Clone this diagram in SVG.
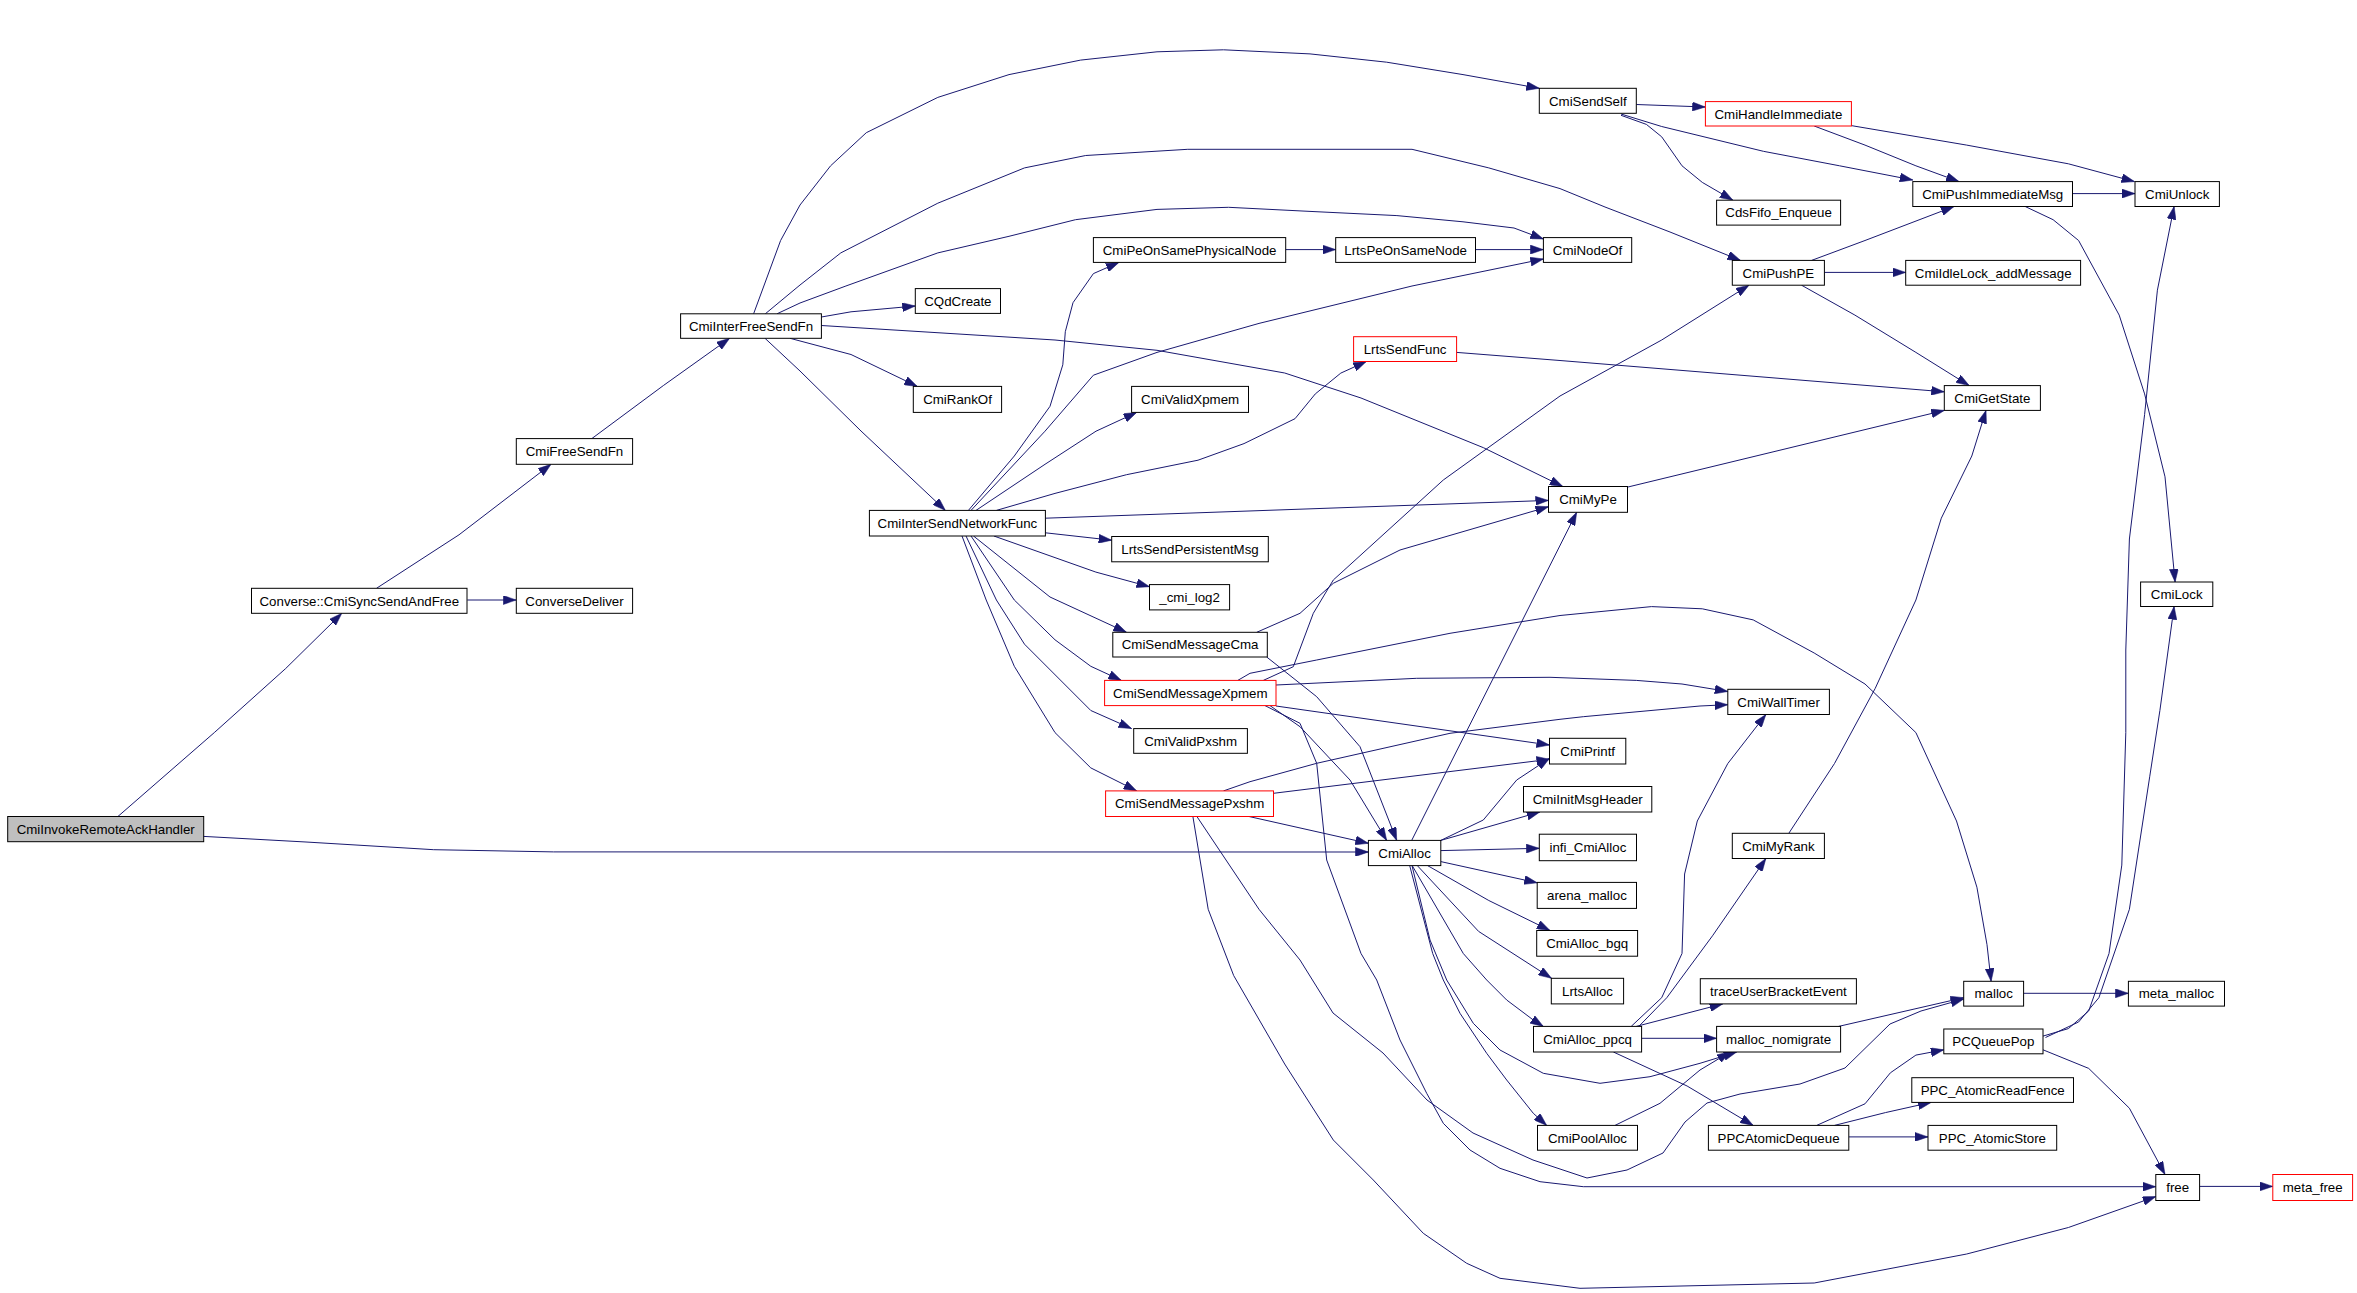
<svg xmlns="http://www.w3.org/2000/svg" width="2357" height="1293" viewBox="0 0 2357 1293">
<style>
.n rect{fill:#fff;stroke:#000;stroke-width:1}
.n.r rect{stroke:#f00}
.n.g rect{fill:#bfbfbf}
.n text{font-family:"Liberation Sans",Arial,Helvetica,sans-serif;font-size:13.3px;text-anchor:middle;fill:#000}
#edges path{fill:none;stroke:#191970;stroke-width:1;stroke-linejoin:round;marker-end:url(#a)}
</style>
<defs>
<marker id="a" markerUnits="userSpaceOnUse" viewBox="0 0 13 9" markerWidth="13" markerHeight="9" refX="13" refY="4.5" orient="auto">
<path d="M0,0 L13,4.5 L0,9 Z" fill="#191970" stroke="#191970" stroke-width="0.5"/>
</marker>
</defs>
<rect width="2357" height="1293" fill="#fff"/>
<g id="edges">
<path d="M117.9,816.5 L214.3,732.6 L285.7,668.5 L341.8,613.3"/>
<path d="M203.6,836.4 L306,842 L433.7,849.7 L553.6,851.9 L1368.4,852"/>
<path d="M376.5,588.3 L459,534.8 L551,464.3"/>
<path d="M467.3,600 L516.3,600"/>
<path d="M591.8,438.6 L663.3,385.6 L729.6,338.3"/>
<path d="M753.6,313.8 L780.6,240.5 L800,205 L830.6,165.8 L866.3,132.7 L937.8,97.4 L1009,74.6 L1080.6,60.1 L1157,51.8 L1223.5,49.8 L1310,53.9 L1386.7,62.2 L1463,74.6 L1539.3,88.3"/>
<path d="M765.3,313.8 L800,285 L840.8,252.9 L937.8,203.2 L1024.5,167.9 L1085.7,155.5 L1187.8,149.3 L1412,149.3 L1488.8,167.9 L1560,188.6 L1605,207 L1670,232 L1740.5,260.4"/>
<path d="M777,313.8 L800,303 L845.9,286 L937.8,252.9 L1009,236.3 L1075.5,219.7 L1157,209.4 L1228.6,207.3 L1310,211.4 L1396.9,215.6 L1463,221.8 L1514,228 L1543.4,239"/>
<path d="M821.4,317 L851,311.8 L915.3,306"/>
<path d="M790,338.3 L851,354.5 L917.3,386.4"/>
<path d="M821.4,325.5 L1055,340 L1157,350.3 L1284.7,373 L1361,398 L1483.7,447.8 L1562.8,486.5"/>
<path d="M765,338.3 L800,371 L861,431 L945.4,510.4"/>
<path d="M1636.3,104.5 L1705.4,107"/>
<path d="M1621,114 L1661.7,126.5 L1763.4,151.3 L1839.6,165.8 L1912.8,180"/>
<path d="M1621,115.3 L1646.4,124.4 L1661.7,136.8 L1682,165.8 L1702.3,182.4 L1732.9,200.2"/>
<path d="M1814.2,126 L1865,145.1 L1915.9,165.8 L1959,181.6"/>
<path d="M1851.3,125.6 L1966.7,145.1 L2068.4,163.8 L2134.5,181.6"/>
<path d="M2072.5,193.6 L2135,193.6"/>
<path d="M2025.2,206.5 L2053.1,219.7 L2078.6,240.5 L2119.2,315.1 L2144.6,393.9 L2165,476.8 L2175.1,582"/>
<path d="M1811.6,260.4 L1865,240.5 L1954,206.5"/>
<path d="M1824.4,272.4 L1905.7,272.4"/>
<path d="M1801.5,285.2 L1854.9,315.1 L1915.9,352.4 L1969.2,385.6"/>
<path d="M1285.7,249.6 L1335.7,249.6"/>
<path d="M1475.5,249.6 L1543.4,249.6"/>
<path d="M1456.6,352.4 L1560,360.5 L1944.3,391.8"/>
<path d="M1627.6,487.1 L1944.3,410.4"/>
<path d="M968.4,510.4 L1014.3,456 L1050,406.3 L1062.8,364.8 L1065.3,331.7 L1073,302.7 L1093.4,273.6 L1118.9,262.4"/>
<path d="M971,510.4 L1045,431.2 L1093.4,375.2 L1157,352.4 L1259,323.4 L1412,286 L1543.4,259"/>
<path d="M976,510.4 L1045,464.3 L1096,431.2 L1136.7,412.4"/>
<path d="M996.4,510.4 L1055,493.4 L1126.5,474.7 L1198,460.2 L1244,443.6 L1295,418.7 L1315.3,393.9 L1340.8,373.1 L1366.3,361.5"/>
<path d="M1045.4,518.2 L1548.5,500.4"/>
<path d="M1045.4,532.8 L1111.7,540.2"/>
<path d="M993.9,536 L1095.9,572.1 L1149.5,586.7"/>
<path d="M973.5,536 L1050,597 L1126.5,632.3"/>
<path d="M971,536 L1014.3,600 L1055,639.8 L1090.8,666.3 L1121.4,680.4"/>
<path d="M966,536 L996.4,600 L1024.5,644.2 L1090.8,710.5 L1131.6,728.6"/>
<path d="M962,536 L986.2,600 L1014.3,666.3 L1055,732.6 L1090.8,767.9 L1136.7,790.9"/>
<path d="M1256.7,632.3 L1300,613.3 L1333.3,583.3 L1400,550 L1548.5,506.7"/>
<path d="M1266.7,657 L1316.7,696.7 L1360,746.7 L1396.7,840.4"/>
<path d="M1263.3,680.4 L1293.3,666.7 L1313.3,613.3 L1333.3,580 L1443.3,480 L1560,396 L1661.7,340 L1749,285.2"/>
<path d="M1237.8,680.4 L1250,673.3 L1316.7,660 L1450,633.3 L1560,615.5 L1651.5,606.6 L1702.3,608.8 L1753.2,619.9 L1814.2,653 L1865,684 L1915.9,732.6 L1956.5,821 L1976.9,887.2 L1987,944.7 L1991.1,981.3"/>
<path d="M1276,685 L1416.7,678.3 L1550,677.3 L1636.3,680.4 L1682,684 L1727.8,691.5"/>
<path d="M1223.5,790.9 L1250,781.7 L1316.7,763.3 L1450,733.3 L1560,719.3 L1583.3,716.7 L1700,706 L1727.8,704.7"/>
<path d="M1276,706 L1549.5,745"/>
<path d="M1273.5,793.3 L1549.5,759.3"/>
<path d="M1440.8,840.4 L1483.3,820 L1516.7,780 L1549.5,758.3"/>
<path d="M1411.7,840.4 L1576.7,512.3"/>
<path d="M1249,816.5 L1368.4,843.3"/>
<path d="M1270,705.6 L1300,726.7 L1350,780 L1386.7,840.4"/>
<path d="M1265,705.6 L1300,723.3 L1316.7,763.3 L1326.7,860 L1361,953.5 L1376.7,980 L1400,1040 L1426.7,1093.3 L1443.3,1123.3 L1470,1150 L1500,1168.3 L1540,1181.7 L1583.3,1186.7 L2155.8,1186.7"/>
<path d="M1196.9,816.5 L1259,909.3 L1300,960 L1333,1013 L1383,1053 L1427,1100 L1473,1133 L1533,1160 L1587,1178 L1627,1170 L1663,1153 L1685,1122 L1707,1103 L1740,1094 L1800,1084 L1845,1068 L1890,1024 L1921,1011 L1963.7,999"/>
<path d="M1192.9,816.5 L1208.2,909.3 L1233.7,975.6 L1284.7,1064 L1333.3,1140 L1373.3,1180 L1423.3,1233.3 L1466.7,1263.3 L1500,1278.3 L1580,1288.3 L1814.2,1283 L1966.7,1254 L2068.4,1227.5 L2155.8,1196.6"/>
<path d="M1440.8,840.4 L1539.8,812"/>
<path d="M1440.8,850.6 L1539.3,848.3"/>
<path d="M1440.8,861.6 L1537.2,882.8"/>
<path d="M1427.6,865.6 L1488.8,900.5 L1550,930.5"/>
<path d="M1417.3,865.6 L1478.6,931.4 L1551.5,978.3"/>
<path d="M1412.2,865.6 L1463.3,953.5 L1486.7,980 L1506.7,1000 L1533.3,1020 L1543.3,1026.4"/>
<path d="M1409.7,865.6 L1432.7,953.5 L1443.3,980 L1460,1013.3 L1486.7,1053.3 L1506.7,1080 L1533.3,1113.3 L1546.7,1125.4"/>
<path d="M1412,865.6 L1430,940 L1446.7,980 L1473.3,1023.3 L1500,1050 L1543.3,1073.3 L1600,1083.3 L1650,1076.7 L1700,1063.3 L1736.7,1052"/>
<path d="M1641.6,1038.3 L1716.6,1038.3"/>
<path d="M1636.3,1026.4 L1722.7,1003.9"/>
<path d="M1631.2,1026.4 L1661.7,997.7 L1682,953.5 L1684.6,874 L1697.3,821 L1727.8,763.5 L1765.9,714.5"/>
<path d="M1638.8,1026.4 L1666.8,997.7 L1712.5,935.8 L1765.9,858.5"/>
<path d="M1613.4,1052 L1687.1,1086 L1753.2,1125.4"/>
<path d="M1615,1125.4 L1660,1103.3 L1700,1070 L1730,1052"/>
<path d="M1838.6,1026.4 L1963.7,997.7"/>
<path d="M1816.7,1125.4 L1865,1103.8 L1890.4,1072.8 L1915.9,1055.1 L1943.8,1049.8"/>
<path d="M1834.5,1125.4 L1885.4,1112.6 L1931.1,1102.4"/>
<path d="M1848.8,1136.9 L1928,1136.9"/>
<path d="M2043,1036.1 L2068.4,1028.6 L2088.7,1011 L2109,953.5 L2121.8,865.1 L2125.8,732.6 L2125.8,650 L2129.4,539 L2144.6,414.6 L2157.4,290.2 L2174.1,206.5"/>
<path d="M2045.5,1037.5 L2078.6,1022 L2098.9,997.7 L2129.4,909.3 L2149.7,776.8 L2159.9,710.5 L2174.1,606.5"/>
<path d="M2043,1049.8 L2088.7,1068.4 L2129.4,1108.2 L2165,1174.5"/>
<path d="M2023.6,993.3 L2128.4,993.3"/>
<path d="M2199.6,1186.4 L2272.8,1186.4"/>
<path d="M1788.8,833.3 L1834.5,763.5 L1875.2,688.4 L1915.9,600 L1941.3,518.2 L1971.8,456 L1986,410.4"/>
</g>
<g id="n1" class="n g"><rect x="7.7" y="816.5" width="196" height="25.2"/><text x="105.7" y="833.8">CmiInvokeRemoteAckHandler</text></g>
<g id="n2" class="n"><rect x="251.5" y="588.3" width="215.5" height="25"/><text x="359.3" y="605.5">Converse::CmiSyncSendAndFree</text></g>
<g id="n3" class="n"><rect x="516.3" y="588.3" width="116.3" height="25"/><text x="574.5" y="605.5">ConverseDeliver</text></g>
<g id="n4" class="n"><rect x="516.3" y="438.6" width="116.3" height="25.7"/><text x="574.5" y="456.2">CmiFreeSendFn</text></g>
<g id="n5" class="n"><rect x="680.6" y="313.8" width="140.8" height="24.5"/><text x="751" y="330.8">CmiInterFreeSendFn</text></g>
<g id="n6" class="n"><rect x="1539.3" y="88.3" width="97" height="25"/><text x="1587.8" y="105.5">CmiSendSelf</text></g>
<g id="n7" class="n r"><rect x="1705.4" y="101.6" width="146" height="24.4"/><text x="1778.4" y="118.5">CmiHandleImmediate</text></g>
<g id="n8" class="n"><rect x="1912.8" y="181.6" width="159.7" height="24.9"/><text x="1992.7" y="198.8">CmiPushImmediateMsg</text></g>
<g id="n9" class="n"><rect x="2135" y="181.6" width="84.4" height="24.9"/><text x="2177.2" y="198.8">CmiUnlock</text></g>
<g id="n10" class="n"><rect x="1716.6" y="200.2" width="124" height="24.9"/><text x="1778.6" y="217.4">CdsFifo_Enqueue</text></g>
<g id="n11" class="n"><rect x="1093.4" y="237.6" width="192.3" height="24.8"/><text x="1189.6" y="254.7">CmiPeOnSamePhysicalNode</text></g>
<g id="n12" class="n"><rect x="1335.7" y="237.6" width="139.8" height="24.8"/><text x="1405.6" y="254.7">LrtsPeOnSameNode</text></g>
<g id="n13" class="n"><rect x="1543.4" y="237.6" width="88.3" height="24.8"/><text x="1587.6" y="254.7">CmiNodeOf</text></g>
<g id="n14" class="n"><rect x="1732.3" y="260.4" width="92.1" height="24.8"/><text x="1778.4" y="277.5">CmiPushPE</text></g>
<g id="n15" class="n"><rect x="1905.7" y="260.4" width="174.9" height="24.8"/><text x="1993.2" y="277.5">CmiIdleLock_addMessage</text></g>
<g id="n16" class="n"><rect x="915.3" y="288.6" width="85.2" height="24.8"/><text x="957.9" y="305.7">CQdCreate</text></g>
<g id="n17" class="n r"><rect x="1353.6" y="336.7" width="103" height="24.8"/><text x="1405.1" y="353.8">LrtsSendFunc</text></g>
<g id="n18" class="n"><rect x="1944.3" y="385.6" width="96.1" height="24.8"/><text x="1992.4" y="402.7">CmiGetState</text></g>
<g id="n19" class="n"><rect x="913.3" y="386.4" width="88.3" height="26"/><text x="957.5" y="404.1">CmiRankOf</text></g>
<g id="n20" class="n"><rect x="1131.6" y="386.4" width="116.9" height="26"/><text x="1190.1" y="404.1">CmiValidXpmem</text></g>
<g id="n21" class="n"><rect x="1548.5" y="486.5" width="79" height="25.8"/><text x="1588" y="503.9">CmiMyPe</text></g>
<g id="n22" class="n"><rect x="869.4" y="510.4" width="176" height="25.6"/><text x="957.4" y="527.9">CmiInterSendNetworkFunc</text></g>
<g id="n23" class="n"><rect x="1111.7" y="536.5" width="156.6" height="25.3"/><text x="1190" y="553.9">LrtsSendPersistentMsg</text></g>
<g id="n24" class="n"><rect x="2140.6" y="582" width="72.2" height="24.5"/><text x="2176.7" y="599">CmiLock</text></g>
<g id="n25" class="n"><rect x="1149.5" y="584.6" width="80.1" height="25.3"/><text x="1189.6" y="602">_cmi_log2</text></g>
<g id="n26" class="n"><rect x="1112.8" y="632.3" width="154.5" height="24.7"/><text x="1190.1" y="649.4">CmiSendMessageCma</text></g>
<g id="n27" class="n r"><rect x="1104.6" y="680.4" width="171.4" height="25.2"/><text x="1190.3" y="697.7">CmiSendMessageXpmem</text></g>
<g id="n28" class="n"><rect x="1727.8" y="689.3" width="101.6" height="25.2"/><text x="1778.6" y="706.6">CmiWallTimer</text></g>
<g id="n29" class="n"><rect x="1133.7" y="728.6" width="113.7" height="24.7"/><text x="1190.6" y="745.7">CmiValidPxshm</text></g>
<g id="n30" class="n"><rect x="1549.5" y="738.3" width="76.3" height="25.7"/><text x="1587.7" y="755.9">CmiPrintf</text></g>
<g id="n31" class="n"><rect x="1523.5" y="786.5" width="128.3" height="25.5"/><text x="1587.7" y="804">CmiInitMsgHeader</text></g>
<g id="n32" class="n r"><rect x="1105.6" y="790.9" width="167.9" height="25.6"/><text x="1189.6" y="808.4">CmiSendMessagePxshm</text></g>
<g id="n33" class="n"><rect x="1732.3" y="833.3" width="92.1" height="25.2"/><text x="1778.4" y="850.6">CmiMyRank</text></g>
<g id="n34" class="n"><rect x="1368.4" y="840.4" width="72.4" height="25.2"/><text x="1404.6" y="857.7">CmiAlloc</text></g>
<g id="n35" class="n"><rect x="1539.3" y="834.2" width="97.2" height="26.5"/><text x="1587.9" y="852.2">infi_CmiAlloc</text></g>
<g id="n36" class="n"><rect x="1537.2" y="882.4" width="99.3" height="26"/><text x="1586.9" y="900.1">arena_malloc</text></g>
<g id="n37" class="n"><rect x="1536.7" y="930.5" width="100.9" height="25.7"/><text x="1587.2" y="948.1">CmiAlloc_bgq</text></g>
<g id="n38" class="n"><rect x="1551.3" y="978.3" width="72.3" height="25.6"/><text x="1587.5" y="995.8">LrtsAlloc</text></g>
<g id="n39" class="n"><rect x="1700.3" y="978.7" width="156.1" height="25.2"/><text x="1778.4" y="996">traceUserBracketEvent</text></g>
<g id="n40" class="n"><rect x="1963.7" y="981.3" width="59.9" height="24.8"/><text x="1993.7" y="998.4">malloc</text></g>
<g id="n41" class="n"><rect x="2128.4" y="981.3" width="96.1" height="24.8"/><text x="2176.5" y="998.4">meta_malloc</text></g>
<g id="n42" class="n"><rect x="1533.5" y="1026.4" width="108.1" height="25.6"/><text x="1587.6" y="1043.9">CmiAlloc_ppcq</text></g>
<g id="n43" class="n"><rect x="1716.6" y="1026.4" width="124" height="25.6"/><text x="1778.6" y="1043.9">malloc_nomigrate</text></g>
<g id="n44" class="n"><rect x="1943.8" y="1029" width="99.2" height="24.8"/><text x="1993.4" y="1046.1">PCQueuePop</text></g>
<g id="n45" class="n"><rect x="1911.8" y="1077.7" width="161.7" height="24.7"/><text x="1992.7" y="1094.8">PPC_AtomicReadFence</text></g>
<g id="n46" class="n"><rect x="1537.5" y="1125.4" width="100" height="24.8"/><text x="1587.5" y="1142.5">CmiPoolAlloc</text></g>
<g id="n47" class="n"><rect x="1708.4" y="1125.4" width="140.4" height="24.8"/><text x="1778.6" y="1142.5">PPCAtomicDequeue</text></g>
<g id="n48" class="n"><rect x="1928" y="1125.4" width="128.7" height="24.8"/><text x="1992.4" y="1142.5">PPC_AtomicStore</text></g>
<g id="n49" class="n"><rect x="2155.8" y="1174.5" width="43.8" height="26"/><text x="2177.7" y="1192.2">free</text></g>
<g id="n50" class="n r"><rect x="2272.8" y="1174.5" width="79.8" height="26"/><text x="2312.7" y="1192.2">meta_free</text></g>
</svg>
